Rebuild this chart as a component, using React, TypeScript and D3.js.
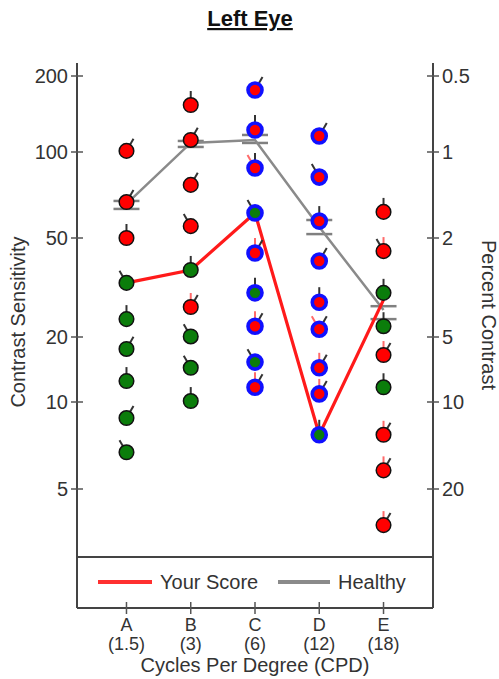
import React, { useEffect, useRef } from "react";
import * as d3 from "d3";

const categories = ["A", "B", "C", "D", "E"];
const cpdLabels = ["(1.5)", "(3)", "(6)", "(12)", "(18)"];
const sensitivityTicks = [200, 100, 50, 20, 10, 5];
const percentTicks = [0.5, 1, 2, 5, 10, 20];

// contrast sensitivity of each patch shown, top to bottom
const levelsA = [101, 66.8, 50, 33, 23.6, 17.6, 12.5, 8.8, 6.7];
const levelsB = [153.5, 111.6, 76.7, 55, 37.2, 26.4, 20.1, 14.4, 10.1];
const levelsC = [176, 122.2, 87.9, 61.2, 43.5, 30.1, 22.1, 15.3, 11.7];
const levelsD = [115.7, 81.7, 57.3, 40.4, 27.6, 21.5, 14.4, 10.9, 7.7];
const levelsE = [61.7, 44.3, 30.1, 22.1, 16.5, 11.7, 7.7, 5.8, 3.75];

// 1 = seen (green), 0 = missed (red)
const correctA = [0, 0, 0, 1, 1, 1, 1, 1, 1];
const correctB = [0, 0, 0, 0, 1, 0, 1, 1, 1];
const correctC = [0, 0, 0, 1, 0, 1, 0, 1, 0];
const correctD = [0, 0, 0, 0, 0, 0, 0, 0, 1];
const correctE = [0, 0, 1, 1, 0, 1, 0, 0, 0];

// stripe orientation: -1 left, 0 vertical, 1 right
const tiltA = [1, 1, 0, -1, 0, 1, 0, 1, -1];
const tiltB = [0, 1, 1, -1, 0, 1, -1, -1, 0];
const tiltC = [1, 0, 0, -1, 1, 0, 1, -1, 1];
const tiltD = [1, -1, 0, 1, 0, 1, 1, 1, 0];
const tiltE = [0, -1, 0, 0, 1, 0, 1, 1, 1];

// answer given (null = not shown)
const answerA = [null, null, null, null, null, null, null, null, null];
const answerB = [null, null, null, null, null, 0, null, null, null];
const answerC = [null, null, -1, null, 0, null, 0, null, 0];
const answerD = [null, null, null, null, null, -1, 0, 0, null];
const answerE = [null, 0, null, null, 0, null, 0, 0, 0];

const ringed = [false, false, true, true, false];

const yourScore = [33, 37.2, 61.2, 7.7, 28.2];
const healthyMean = [65.8, 108.6, 111.6, 54.6, 25.7];
const healthyLow = [63.2, 104.7, 108.6, 51.6, 23.6];
const healthyHigh = [67.4, 110.6, 116.8, 57.8, 26.6];

const font = "'Liberation Sans', Arial, Helvetica, sans-serif";
const textColor = "#333";

export default function App() {
  const svgRef = useRef<SVGSVGElement>(null);

  useEffect(() => {
    const svg = d3.select(svgRef.current);
    svg.selectAll("*").remove();

    const left = 77;
    const right = 433;
    const top = 63;
    const plotBottom = 557;
    const bottom = 608;

    const x = d3.scalePoint<string>().domain(categories).range([left, right]).padding(0.77);
    // axis rows are not evenly spaced in the original, so piecewise log
    const y = d3
      .scaleLog()
      .domain(sensitivityTicks)
      .range([76, 152, 238, 337, 402, 489]);

    // title
    svg
      .append("text")
      .attr("x", 250)
      .attr("y", 26)
      .attr("text-anchor", "middle")
      .attr("font-family", font)
      .attr("font-weight", "bold")
      .attr("font-size", 22)
      .attr("text-decoration", "underline")
      .attr("fill", "#111")
      .text("Left Eye");

    // frame
    const frame = svg.append("g").attr("stroke", "#444").attr("stroke-width", 2);
    frame.append("line").attr("x1", left).attr("x2", left).attr("y1", top).attr("y2", bottom);
    frame.append("line").attr("x1", right).attr("x2", right).attr("y1", top).attr("y2", bottom);
    frame.append("line").attr("x1", left).attr("x2", right).attr("y1", bottom).attr("y2", bottom);
    frame.append("line").attr("x1", left).attr("x2", right).attr("y1", plotBottom).attr("y2", plotBottom);

    // left axis
    const yl = svg
      .append("g")
      .selectAll("g")
      .data(sensitivityTicks)
      .join("g")
      .attr("transform", (d) => `translate(${left},${y(d)})`);
    yl.append("line").attr("x1", -6).attr("x2", 6).attr("stroke", "#555").attr("stroke-width", 1.5);
    yl.append("text")
      .attr("x", -9)
      .attr("dy", "0.36em")
      .attr("text-anchor", "end")
      .attr("font-family", font)
      .attr("font-size", 20)
      .attr("fill", textColor)
      .text((d) => d);

    // right axis
    const yr = svg
      .append("g")
      .selectAll("g")
      .data(percentTicks)
      .join("g")
      .attr("transform", (d) => `translate(${right},${y(100 / d)})`);
    yr.append("line").attr("x1", -6).attr("x2", 6).attr("stroke", "#555").attr("stroke-width", 1.5);
    yr.append("text")
      .attr("x", 9)
      .attr("dy", "0.36em")
      .attr("font-family", font)
      .attr("font-size", 20)
      .attr("fill", textColor)
      .text((d) => d);

    svg
      .append("text")
      .attr("transform", "translate(25,322) rotate(-90)")
      .attr("text-anchor", "middle")
      .attr("font-family", font)
      .attr("font-size", 20)
      .attr("fill", textColor)
      .text("Contrast Sensitivity");

    svg
      .append("text")
      .attr("transform", "translate(482,315) rotate(90)")
      .attr("text-anchor", "middle")
      .attr("font-family", font)
      .attr("font-size", 20)
      .attr("fill", textColor)
      .text("Percent Contrast");

    // x axis
    const xa = svg
      .append("g")
      .selectAll("g")
      .data(categories)
      .join("g")
      .attr("transform", (d) => `translate(${x(d)},${bottom})`);
    xa.append("line").attr("y1", -6).attr("y2", 6).attr("stroke", "#555").attr("stroke-width", 1.5);
    xa.append("text")
      .attr("y", 22.5)
      .attr("text-anchor", "middle")
      .attr("font-family", font)
      .attr("font-size", 18)
      .attr("fill", textColor)
      .text((d) => d);
    xa.append("text")
      .attr("y", 42)
      .attr("text-anchor", "middle")
      .attr("font-family", font)
      .attr("font-size", 18)
      .attr("fill", textColor)
      .text((d, i) => cpdLabels[i]);
    svg
      .append("text")
      .attr("x", (left + right) / 2)
      .attr("y", 672)
      .attr("text-anchor", "middle")
      .attr("font-family", font)
      .attr("font-size", 20)
      .attr("fill", textColor)
      .text("Cycles Per Degree (CPD)");

    // healthy range bars + line
    const hb = svg.append("g").attr("stroke", "#808080").attr("stroke-width", 2.5);
    categories.forEach((c, i) => {
      [healthyLow[i], healthyHigh[i]].forEach((v) => {
        hb.append("line")
          .attr("x1", x(c)! - 13)
          .attr("x2", x(c)! + 13)
          .attr("y1", y(v))
          .attr("y2", y(v));
      });
    });

    const line = d3
      .line<number>()
      .x((d, i) => x(categories[i])!)
      .y((d) => y(d));

    svg
      .append("path")
      .attr("d", line(healthyMean))
      .attr("fill", "none")
      .attr("stroke", "#8a8a8a")
      .attr("stroke-width", 2.5);

    svg
      .append("path")
      .attr("d", line(yourScore))
      .attr("fill", "none")
      .attr("stroke", "#ff1a1a")
      .attr("stroke-width", 3.2);

    // patches
    const levels = [levelsA, levelsB, levelsC, levelsD, levelsE];
    const correct = [correctA, correctB, correctC, correctD, correctE];
    const tilt = [tiltA, tiltB, tiltC, tiltD, tiltE];
    const answer = [answerA, answerB, answerC, answerD, answerE];
    const points = categories.flatMap((c, i) =>
      levels[i].map((v, j) => ({
        cat: c,
        v,
        ok: correct[i][j] === 1,
        tilt: tilt[i][j],
        answer: answer[i][j],
        ring: ringed[i],
      }))
    );

    const stick = (t: number, len: number) => {
      const a = (t * 30 * Math.PI) / 180;
      return { x2: Math.sin(a) * len, y2: -Math.cos(a) * len };
    };

    const dots = svg
      .append("g")
      .selectAll("g")
      .data(points)
      .join("g")
      .attr("transform", (d) => `translate(${x(d.cat)},${y(d.v)})`);

    dots
      .filter((d) => d.answer !== null)
      .append("line")
      .attr("x2", (d) => stick(d.answer as number, d.ring ? 15 : 14).x2)
      .attr("y2", (d) => stick(d.answer as number, d.ring ? 15 : 14).y2)
      .attr("stroke", "#ff6a6a")
      .attr("stroke-width", 2);

    dots
      .append("line")
      .attr("x2", (d) => stick(d.tilt, d.ring ? 15 : 14).x2)
      .attr("y2", (d) => stick(d.tilt, d.ring ? 15 : 14).y2)
      .attr("stroke", "#333")
      .attr("stroke-width", 2);

    dots
      .append("circle")
      .attr("r", (d) => (d.ring ? 7 : 7.3))
      .attr("fill", (d) => (d.ok ? "#0b7d0b" : "#ff0000"))
      .attr("stroke", (d) => (d.ring ? "#1010ff" : "#111"))
      .attr("stroke-width", (d) => (d.ring ? 3.6 : 1.5));

    // legend
    const lg = svg.append("g").attr("font-family", font).attr("font-size", 20).attr("fill", textColor);
    lg.append("line").attr("x1", 98).attr("x2", 152).attr("y1", 582).attr("y2", 582)
      .attr("stroke", "#ff3030").attr("stroke-width", 4);
    lg.append("text").attr("x", 160).attr("y", 589).text("Your Score");
    lg.append("line").attr("x1", 278).attr("x2", 330).attr("y1", 582).attr("y2", 582)
      .attr("stroke", "#8a8a8a").attr("stroke-width", 4);
    lg.append("text").attr("x", 338).attr("y", 589).text("Healthy");
  }, []);

  return (
    <svg
      ref={svgRef}
      width={499}
      height={679}
      style={{ position: "absolute", left: 0, top: 0, background: "#fff" }}
    />
  );
}
